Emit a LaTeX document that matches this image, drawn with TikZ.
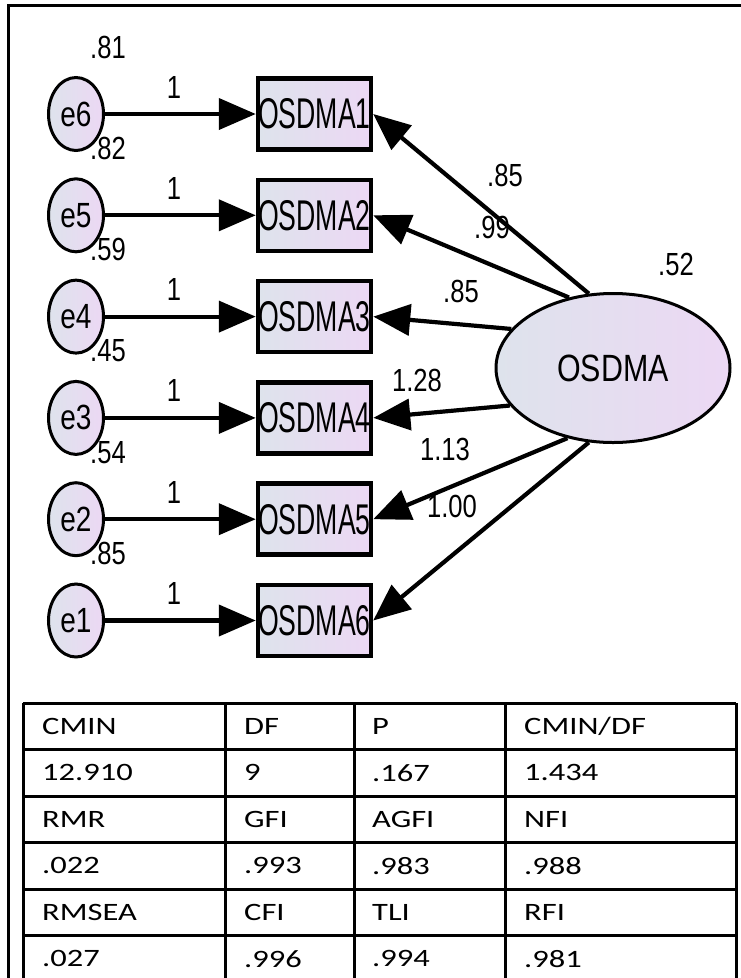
\documentclass[tikz,border=0pt]{standalone}
\usepackage{fontspec}
\setmainfont{Liberation Sans}
\newfontfamily\amosfont[FakeStretch=0.8]{Liberation Sans}
\newfontfamily\amosbox[FakeStretch=0.62]{Liberation Sans}
\newfontfamily\tabfont[FakeStretch=1.3]{Carlito}
\usetikzlibrary{positioning, calc, arrows.meta, shapes.geometric}

\definecolor{amosLeft}{RGB}{222, 227, 236}
\definecolor{amosRight}{RGB}{236, 216, 244}

\begin{document}
\begin{tikzpicture}[
    x=1pt, y=1pt,
    obsbox/.style={rectangle, draw, line width=4.5pt, inner sep=0pt,
                   minimum width=113pt, minimum height=71pt,
                   left color=amosLeft, right color=amosRight,
                   font=\amosbox\fontsize{43}{43}\selectfont},
    errvar/.style={ellipse, draw, line width=3pt, inner sep=0pt,
                   minimum width=55pt, minimum height=73pt,
                   left color=amosLeft, right color=amosRight,
                   font=\amosfont\fontsize{35}{35}\selectfont},
    latent/.style={ellipse, draw, line width=3pt, inner sep=0pt,
                   minimum width=234pt, minimum height=149pt,
                   left color=amosLeft, right color=amosRight,
                   font=\amosfont\fontsize{38}{38}\selectfont},
    est/.style={inner sep=0pt, font=\amosfont\fontsize{32}{32}\selectfont},
    regpath/.style={-{Triangle[length=37pt, width=31pt]}, line width=4.2pt},
    cell/.style={anchor=west, inner sep=0pt,
                 font=\tabfont\fontsize{25}{25}\selectfont},
    grid/.style={line width=3pt},
  ]
    \useasboundingbox (0,0) rectangle (741,-978);

    % page frame
    \draw[grid] (741,-5) -- (8,-5) -- (8,-978);

    % latent factor
    \node[latent] (lv) at (613,-368) {OSDMA};
    \node[est] (lvvar) at (676,-264) {.52};

    % indicators with their error terms
    \foreach \r/\e/\v in {1/6/.81, 2/5/.82, 3/4/.59, 4/3/.45, 5/2/.54, 6/1/.85} {
      \pgfmathsetmacro{\yy}{-114-101.3*(\r-1)}
      \node[obsbox] (b\r) at (314.5,\yy) {OSDMA\r};
      \node[errvar] (e\e) at (76,\yy) {e\e};
      \node[est] (var\e) at (108,\yy+67) {\v};
      \node[est] (one\e) at (174,\yy+27) {1};
      \draw[regpath] (e\e.east) -- (b\r.west);
    }

    % factor loadings
    \foreach \r/\a in {1/108, 2/122, 3/159, 4/200, 5/237, 6/252} {
      \draw[regpath] (lv.\a) -- (b\r.east);
    }
    \node[est] (w1) at (505,-175) {.85};
    \node[est] (w2) at (492,-227) {.99};
    \node[est] (w3) at (461,-291) {.85};
    \node[est] (w4) at (417,-380) {1.28};
    \node[est] (w5) at (445,-449) {1.13};
    \node[est] (w6) at (452,-506) {1.00};

    % fit indices table
    \foreach \y in {703, 749.5, 796, 842.5, 889, 935.5} {
      \draw[grid] (23,-\y) -- (736,-\y);
    }
    \foreach \x in {23, 225, 354, 505, 736} {
      \draw[grid] (\x,-703) -- (\x,-978);
    }
    \foreach \i/\a/\b/\c/\d in {1/CMIN/DF/P/CMIN\slash DF,
                                2/12.910/9/.167/1.434,
                                3/RMR/GFI/AGFI/NFI,
                                4/.022/.993/.983/.988,
                                5/RMSEA/CFI/TLI/RFI,
                                6/.027/.996/.994/.981} {
      \pgfmathsetmacro{\yy}{-726.25-46.5*(\i-1)}
      \node[cell] (t\i a) at (42,\yy) {\a};
      \node[cell] (t\i b) at (244,\yy) {\b};
      \node[cell] (t\i c) at (372,\yy) {\c};
      \node[cell] (t\i d) at (524,\yy) {\d};
    }
\end{tikzpicture}
\end{document}
